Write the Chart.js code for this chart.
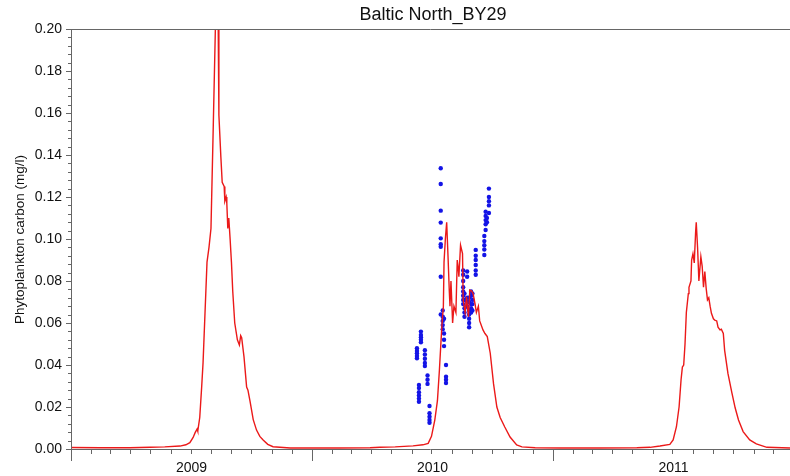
<!DOCTYPE html>
<html>
<head>
<meta charset="utf-8">
<script src="https://cdn.jsdelivr.net/npm/chart.js@4"></script>
<style>
  html, body { margin: 0; padding: 0; background: #fff; }
  canvas { display: block; }
</style>
</head>
<body>
<canvas id="chart" width="790" height="476"></canvas>
<script>
// model run: days since 1 Jan 2009, phytoplankton carbon (mg/l)
const modelDays = [
  0, 44, 89, 120, 142, 165, 174, 180, 185, 188, 191, 192, 195, 198, 200, 203, 206, 209, 212, 215.5,
  219, 221, 223, 224, 227, 229, 232, 233, 235, 236, 237.5, 239, 241, 243, 245, 248, 252, 255, 257, 258.5,
  262, 266, 268, 271, 276, 281, 286, 291, 298, 306, 332,
  347, 407, 453,
  468, 491, 518, 533, 541, 546, 551, 555, 558, 560, 562, 564, 565, 567, 569, 571, 573, 574, 575.5, 578,
  580, 583, 585, 586.5, 587.5, 590, 593, 594, 597, 599, 602, 604, 607, 609, 612, 614, 617, 619, 624, 627,
  630.5, 635, 640, 645, 650, 657, 665, 675, 683, 703,
  741, 801, 857,
  877, 892, 907, 912, 917, 921, 924, 926, 928, 930, 932, 935, 936, 939, 940, 942, 944, 946, 947, 949,
  951, 954, 956, 958, 960, 962, 964, 966, 968, 970, 973, 975, 978, 980, 983, 985, 988, 990, 995, 1001,
  1006, 1011, 1018, 1028, 1038, 1054, 1089
];
const modelCarbon = [
  0.0007, 0.0006, 0.0006, 0.0008, 0.001, 0.0014, 0.002, 0.003, 0.0055, 0.0078, 0.0095, 0.0085, 0.015, 0.03, 0.041, 0.065, 0.089, 0.096, 0.105, 0.154,
  0.205, 0.21, 0.2, 0.159, 0.139, 0.127, 0.125, 0.118, 0.12, 0.117, 0.105, 0.11, 0.1, 0.089, 0.075, 0.06, 0.052, 0.0495, 0.054, 0.053,
  0.044, 0.0295, 0.028, 0.023, 0.014, 0.009, 0.006, 0.0043, 0.0022, 0.0011, 0.0005,
  0.0005, 0.0005, 0.0006,
  0.0008, 0.001, 0.0015, 0.002, 0.0027, 0.006, 0.0138, 0.023, 0.0376, 0.049, 0.06, 0.068, 0.089, 0.1, 0.108, 0.092, 0.075, 0.068, 0.08, 0.06,
  0.068, 0.065, 0.09, 0.086, 0.082, 0.097, 0.093, 0.071, 0.065, 0.0725, 0.063, 0.0757, 0.0752, 0.074, 0.069, 0.065, 0.068, 0.061, 0.0567, 0.055,
  0.0535, 0.0456, 0.031, 0.02, 0.015, 0.0105, 0.0057, 0.0019, 0.001, 0.0006,
  0.0005, 0.0005, 0.0006,
  0.0008, 0.0014, 0.0022, 0.0043, 0.0106, 0.02, 0.033, 0.039, 0.04, 0.05, 0.065, 0.074, 0.077, 0.08, 0.09, 0.093, 0.0886, 0.103, 0.108, 0.096,
  0.08, 0.0916, 0.087, 0.077, 0.0845, 0.0766, 0.071, 0.072, 0.068, 0.0646, 0.062, 0.0614, 0.061, 0.058, 0.0567, 0.057, 0.055, 0.047, 0.036, 0.0267,
  0.0195, 0.0138, 0.0083, 0.0043, 0.0024, 0.0008, 0.0005
];

// station samples (several depths per visit)
const obsDays = [
  524, 524, 524, 524, 524,
  527, 527, 527, 527, 527, 527,
  530, 530, 530, 530, 530,
  536, 536, 536, 536, 536,
  540, 540, 540,
  543, 543, 543, 543, 543,
  560, 560, 560, 560, 560, 560, 560, 560, 560,
  563, 563, 563, 563, 563,
  565, 565, 565, 565,
  568, 568, 568, 568,
  594, 594, 594, 594, 594, 594, 594, 594,
  596, 596, 596, 596, 596,
  600, 600, 600, 600, 600,
  603, 603, 603, 603, 603, 603, 603,
  606, 606, 606, 606, 606,
  608, 608, 608, 608,
  613, 613, 613, 613, 613, 613,
  626, 626, 626, 626, 626,
  628, 628, 628, 628, 628,
  630, 630,
  633, 633, 633, 633, 633
];
const obsCarbon = [
  0.048, 0.0467, 0.0456, 0.0443, 0.0432,
  0.0305, 0.029, 0.027, 0.0255, 0.024, 0.0225,
  0.0559, 0.0543, 0.0532, 0.052, 0.0508,
  0.047, 0.045, 0.043, 0.041, 0.0395,
  0.035, 0.033, 0.031,
  0.0205, 0.017, 0.0154, 0.0138, 0.0125,
  0.1337, 0.1262, 0.1135, 0.1078, 0.1003, 0.0975, 0.0963, 0.082, 0.0641,
  0.066, 0.063, 0.061, 0.059, 0.057,
  0.055, 0.052, 0.049, 0.062,
  0.04, 0.0344, 0.033, 0.0314,
  0.085, 0.083, 0.08, 0.077, 0.075, 0.073, 0.071, 0.069,
  0.067, 0.065, 0.063, 0.071, 0.074,
  0.0845, 0.082, 0.072, 0.07, 0.068,
  0.066, 0.064, 0.062, 0.06, 0.058, 0.07, 0.072,
  0.069, 0.067, 0.065, 0.073, 0.075,
  0.074, 0.071, 0.069, 0.066,
  0.0948, 0.092, 0.09, 0.0876, 0.085, 0.083,
  0.1014, 0.099, 0.097, 0.095, 0.0924,
  0.113, 0.111, 0.109, 0.107, 0.1043,
  0.11, 0.108,
  0.124, 0.12, 0.118, 0.116, 0.1124
];

const years = [2009, 2010, 2011];
const yearLabels = ['2009', '2010', '2011'];
const chartTitle = 'Baltic North_BY29';
const yTitle = 'Phytoplankton carbon (mg/l)';

const xMax = 1089;
const FONT = '"Liberation Sans", Arial, sans-serif';
const AXIS = '#666';

const dayOf = (y, m) => (Date.UTC(y, m, 1) - Date.UTC(2009, 0, 1)) / 864e5;

// axes frame, tick marks and text drawn on top of the chart area
const decor = {
  id: 'decor',
  afterDraw(chart) {
    const { ctx, chartArea: a, scales: { x, y } } = chart;
    ctx.save();
    ctx.strokeStyle = AXIS;
    ctx.lineWidth = 1;
    ctx.beginPath();
    // frame: left, bottom, top
    ctx.moveTo(a.left + 0.5, a.top);
    ctx.lineTo(a.left + 0.5, a.bottom);
    ctx.moveTo(a.left, a.bottom + 0.5);
    ctx.lineTo(a.right, a.bottom + 0.5);
    ctx.moveTo(a.left, a.top + 0.5);
    ctx.lineTo(a.right, a.top + 0.5);
    // y ticks: major every 0.02, minor every 0.004
    for (let i = 0; i <= 50; i++) {
      const py = Math.round(y.getPixelForValue(i * 0.004)) + 0.5;
      const len = i % 5 === 0 ? 5 : 3;
      ctx.moveTo(a.left - len, py);
      ctx.lineTo(a.left, py);
    }
    // x ticks: months, with longer marks at the turn of the year
    years.forEach(yr => {
      for (let m = 0; m < 12; m++) {
        const d = dayOf(yr, m);
        if (d > xMax) continue;
        const px = Math.round(x.getPixelForValue(d)) + 0.5;
        const len = m === 0 ? 12 : 5;
        ctx.moveTo(px, a.bottom);
        ctx.lineTo(px, a.bottom + len);
      }
    });
    ctx.stroke();

    ctx.fillStyle = '#111';
    ctx.textAlign = 'center';
    ctx.textBaseline = 'middle';
    ctx.font = '18px ' + FONT;
    ctx.fillText(chartTitle, 433, 15);

    ctx.translate(20, 239.5);
    ctx.rotate(-Math.PI / 2);
    ctx.font = '13.5px ' + FONT;
    ctx.fillText(yTitle, 0, 0);
    ctx.restore();
  }
};

new Chart(document.getElementById('chart'), {
  data: {
    datasets: [
      {
        type: 'scatter',
        label: 'Observed',
        data: obsDays.map((d, i) => ({ x: d, y: obsCarbon[i] })),
        backgroundColor: 'rgb(20,20,230)',
        borderWidth: 0,
        pointRadius: 2.2,
        order: 2
      },
      {
        type: 'line',
        label: 'Model',
        data: modelDays.map((d, i) => ({ x: d, y: modelCarbon[i] })),
        borderColor: 'rgb(235,25,25)',
        borderWidth: 1.4,
        pointRadius: 0,
        tension: 0,
        fill: false,
        order: 1
      }
    ]
  },
  options: {
    responsive: false,
    animation: false,
    devicePixelRatio: 1,
    layout: { autoPadding: false, padding: { top: 29, left: 0, right: 0, bottom: 0 } },
    plugins: {
      legend: { display: false },
      tooltip: { enabled: false },
      title: { display: false }
    },
    scales: {
      x: {
        type: 'linear',
        min: 0,
        max: xMax,
        grid: { display: false, drawTicks: false },
        border: { display: false },
        afterBuildTicks: s => {
          s.ticks = years.map(yr => ({ value: (dayOf(yr, 0) + dayOf(yr + 1, 0)) / 2 }));
        },
        afterFit: s => {
          s.height = 27;
          s.paddingLeft = 0;
          s.paddingRight = 0;
        },
        ticks: {
          padding: 11,
          autoSkip: false,
          maxRotation: 0,
          color: '#111',
          font: { family: FONT, size: 14 },
          callback: (v, i) => yearLabels[i]
        }
      },
      y: {
        min: 0,
        max: 0.2,
        grid: { display: false, drawTicks: false },
        border: { display: false },
        afterFit: s => { s.width = 71; },
        ticks: {
          stepSize: 0.02,
          padding: 9,
          color: '#111',
          font: { family: FONT, size: 14 },
          callback: v => v.toFixed(2)
        }
      }
    }
  },
  plugins: [decor]
});
</script>
</body>
</html>
